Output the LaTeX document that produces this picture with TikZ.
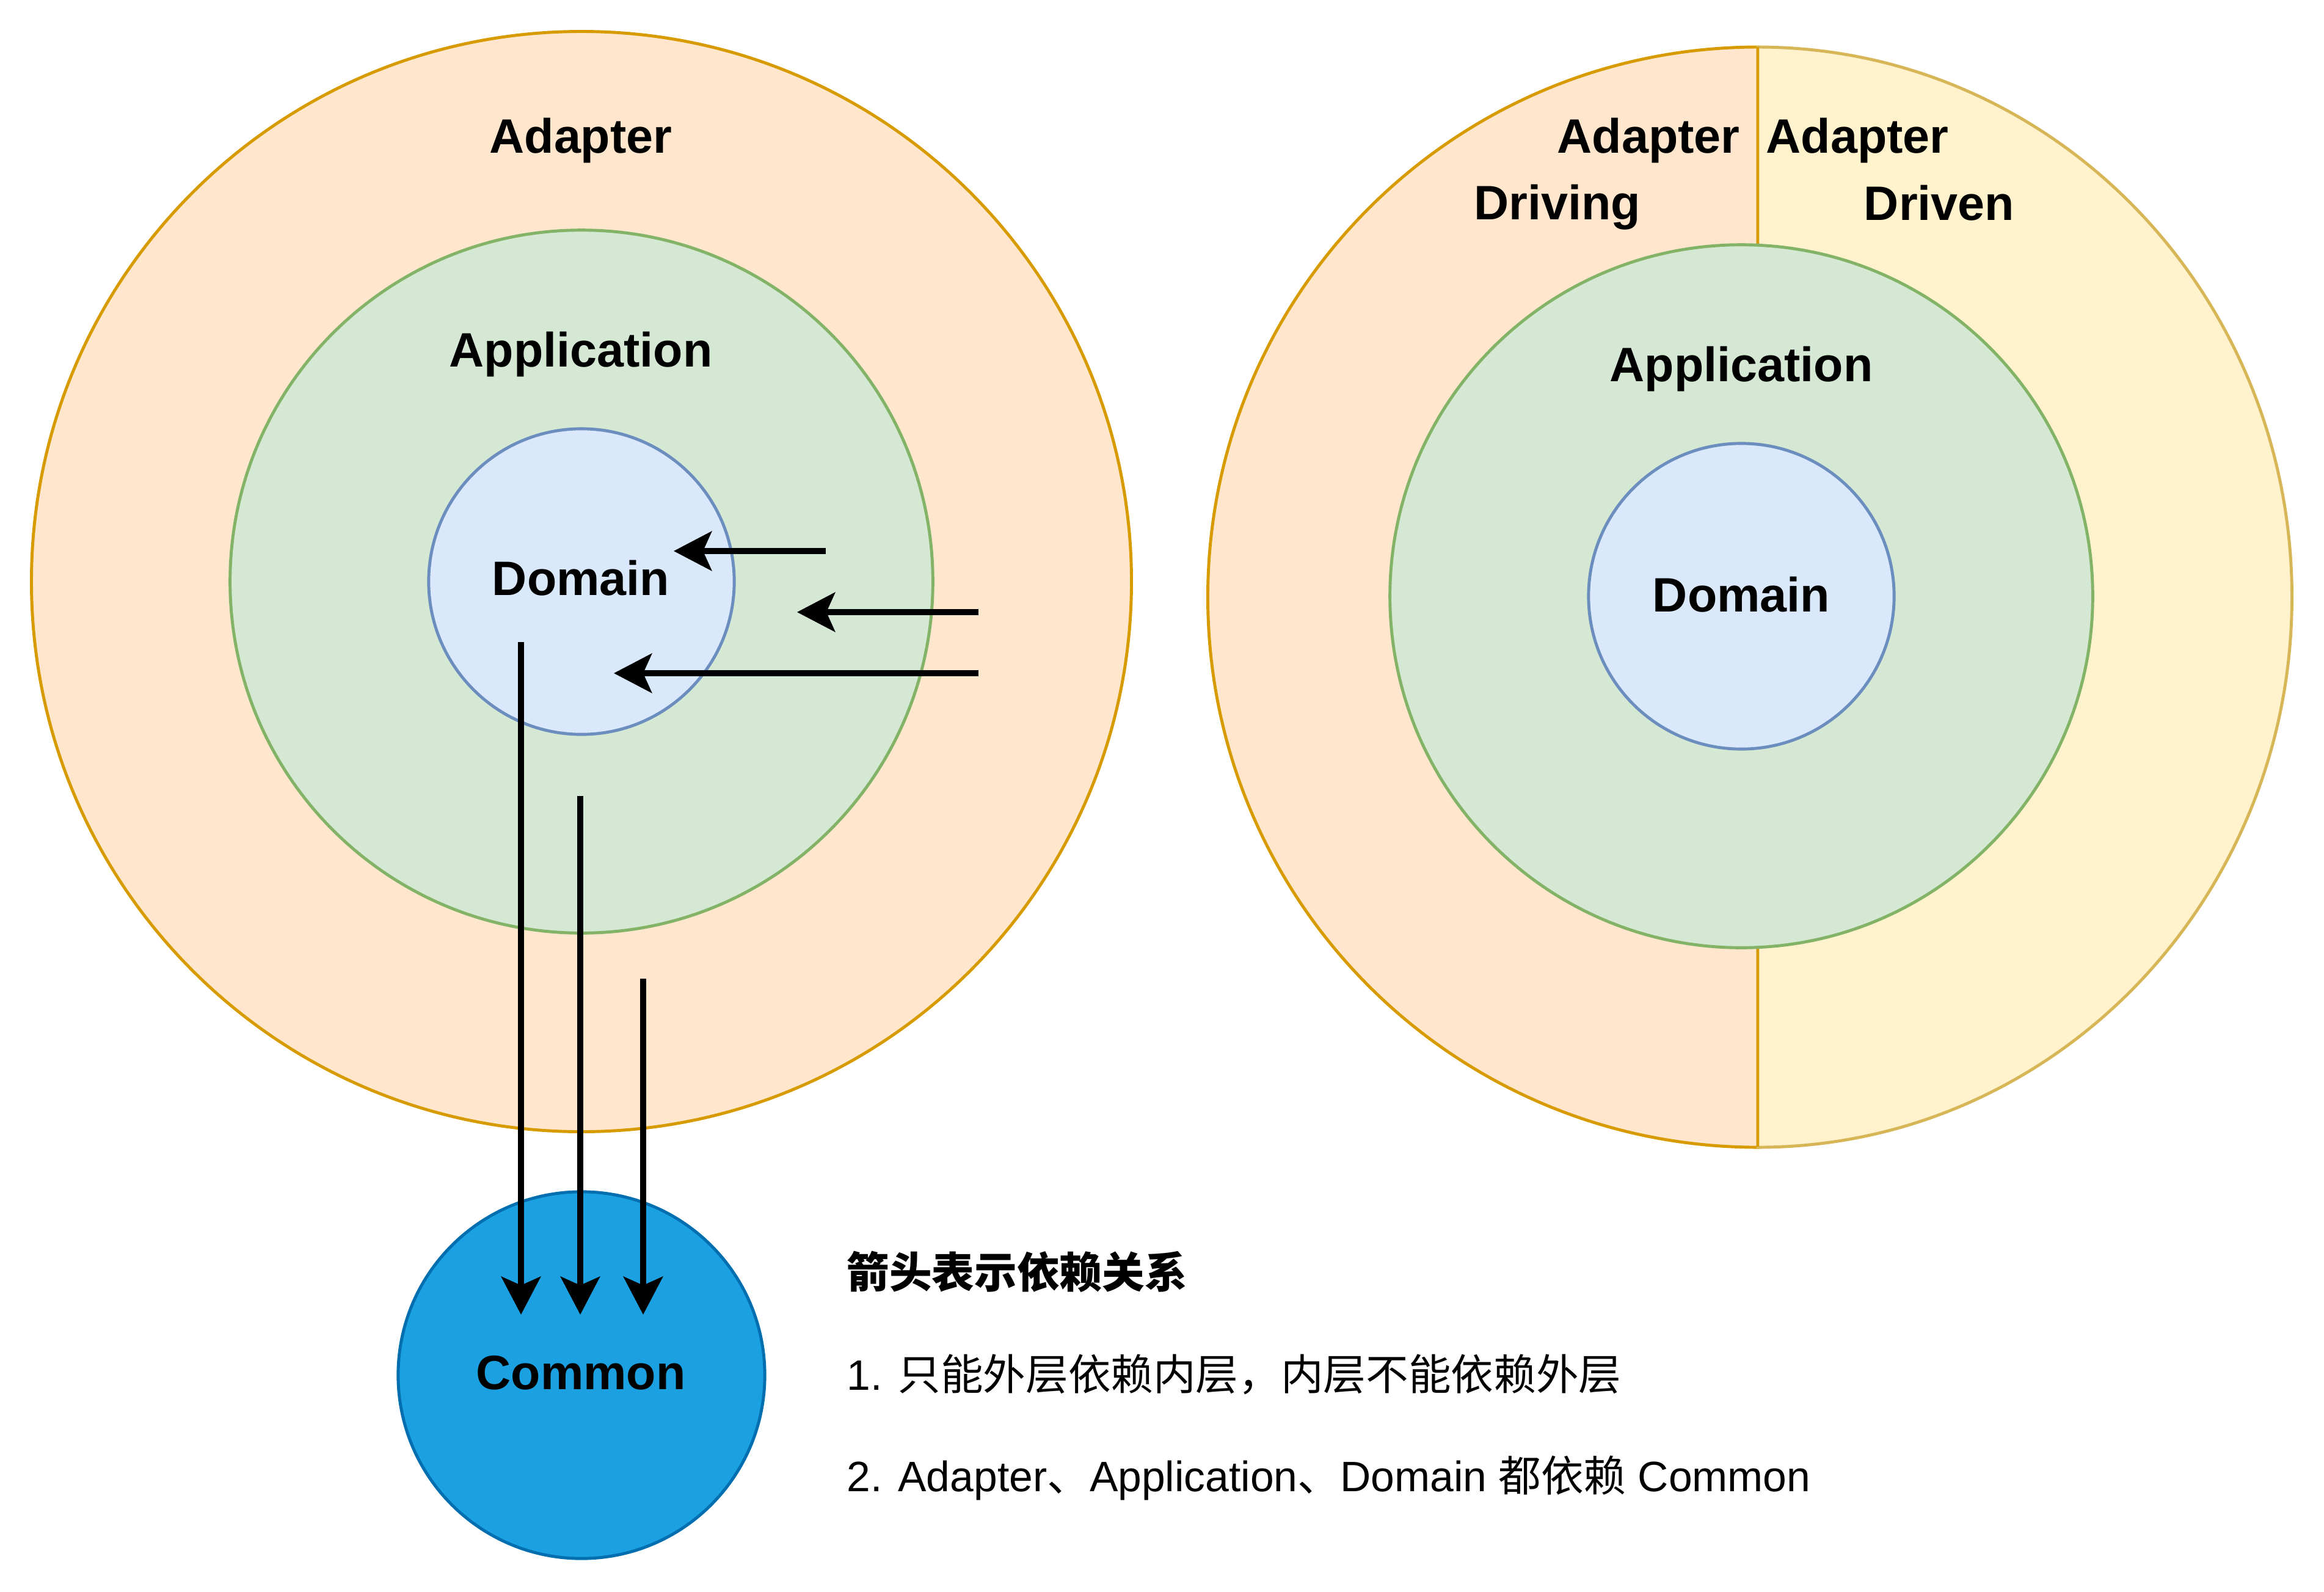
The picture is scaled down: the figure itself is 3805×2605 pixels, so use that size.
\documentclass[tikz,border=0pt]{standalone}
\usepackage{fontspec}
\setmainfont{Liberation Sans}
\newfontfamily\cjk{Noto Sans CJK SC}
\usetikzlibrary{arrows.meta}
\definecolor{adaptF}{HTML}{FFE6CC}
\definecolor{adaptD}{HTML}{D79B00}
\definecolor{drivenF}{HTML}{FFF2CC}
\definecolor{drivenD}{HTML}{D6B656}
\definecolor{appF}{HTML}{D5E8D4}
\definecolor{appD}{HTML}{82B366}
\definecolor{domF}{HTML}{DAE8FC}
\definecolor{domD}{HTML}{6C8EBF}
\definecolor{comF}{HTML}{1BA1E2}
\definecolor{comD}{HTML}{006EAF}
\tikzset{
  ring/.style={circle, line width=1.4pt, inner sep=0pt, outer sep=0pt},
  adapterring/.style={ring, fill=adaptF, draw=adaptD, minimum size=18cm},
  appring/.style={ring, fill=appF, draw=appD, minimum size=11.5cm},
  domring/.style={ring, fill=domF, draw=domD, minimum size=5cm},
  comring/.style={ring, fill=comF, draw=comD, minimum size=6cm},
  lbl/.style={font=\fontsize{22.5}{27}\selectfont\bfseries, inner sep=0pt},
  note/.style={font=\fontsize{19.8}{24}\selectfont, inner sep=0pt, anchor=west},
  dep/.style={line width=2.85pt, -{Stealth[length=0.62cm, width=0.64cm, inset=0.14cm]}}
}
\begin{document}
\begin{tikzpicture}[x=0.01cm, y=-0.01cm]
\useasboundingbox (0,0) rectangle (3805,2605);
% ---- left diagram ----
\node[adapterring] (adapter) at (952,952) {};
\node[appring] (app) at (952,952) {};
\node[domring] (dom) at (952,952) {};
\node[comring] (common) at (952,2251) {};
\node[lbl] (adapterlbl) at (951,230) {Adapter};
\node[lbl] (applbl) at (951,580) {Application};
\node[lbl] (domlbl) at (951,946) {Domain};
\node[lbl] (comlbl) at (951,2247) {Common};
% arrows
\coordinate (a1s) at (1352,902); \coordinate (a1e) at (1103,902);
\coordinate (a2s) at (1602,1002); \coordinate (a2e) at (1305,1002);
\coordinate (a3s) at (1602,1102); \coordinate (a3e) at (1005,1102);
\coordinate (d1s) at (853,1051); \coordinate (d1e) at (853,2152);
\coordinate (d2s) at (950,1303); \coordinate (d2e) at (950,2152);
\coordinate (d3s) at (1053,1602); \coordinate (d3e) at (1053,2152);
\draw[dep] (a1s) -- (a1e);
\draw[dep] (a2s) -- (a2e);
\draw[dep] (a3s) -- (a3e);
\draw[dep] (d1s) -- (d1e);
\draw[dep] (d2s) -- (d2e);
\draw[dep] (d3s) -- (d3e);
% ---- right diagram ----
\coordinate (rtop) at (2878,77);
\coordinate (rbot) at (2878,1877);
\filldraw[fill=adaptF, draw=adaptD, line width=1.4pt] (rtop) arc[start angle=90, end angle=270, x radius=9cm, y radius=9cm] -- cycle;
\filldraw[fill=drivenF, draw=drivenD, line width=1.4pt] (rtop) arc[start angle=90, end angle=-90, x radius=8.74cm, y radius=9cm] -- cycle;
\draw[adaptD, line width=1.4pt] (rtop) -- (rbot);
\node[appring] (app2) at (2851,976) {};
\node[domring] (dom2) at (2851,976) {};
\node[lbl] (drivinglbl1) at (2699,230) {Adapter};
\node[lbl] (drivenlbl1) at (3041,230) {Adapter};
\node[lbl] (drivinglbl2) at (2550,339) {Driving};
\node[lbl] (drivenlbl2) at (3175,332) {Driven};
\node[lbl] (app2lbl) at (2851,604) {Application};
\node[lbl] (dom2lbl) at (2851,973) {Domain};
% ---- notes ----
\node[note] (n0) at (1386,2082) {\cjk\bfseries 箭头表示依赖关系};
\node[note] (n1) at (1386,2250) {1. {\cjk 只能外层依赖内层，内层不能依赖外层}};
\node[note] (n2) at (1386,2419) {2. Adapter{\cjk 、}Application{\cjk 、}Domain {\cjk 都依赖} Common};
\end{tikzpicture}
\end{document}
